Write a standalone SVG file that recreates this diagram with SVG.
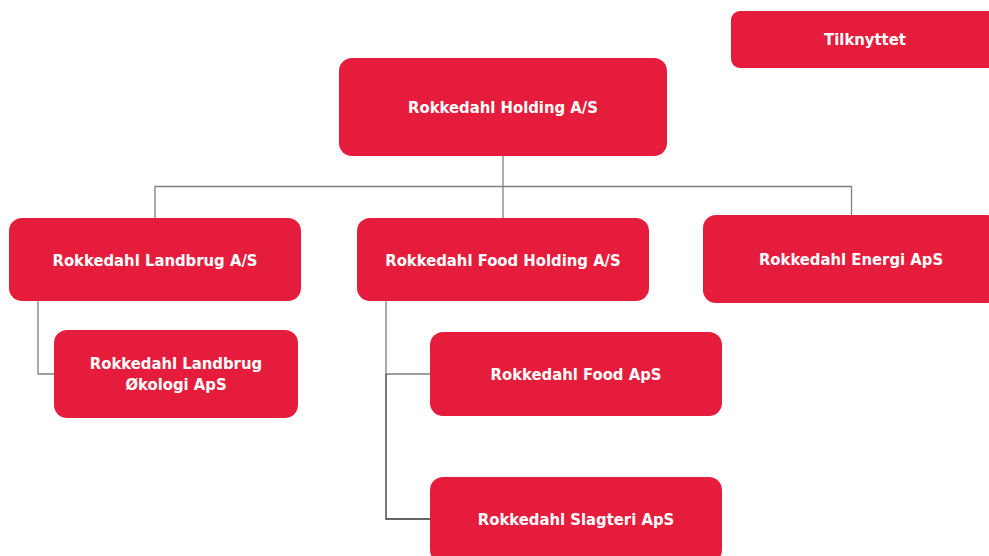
<svg xmlns="http://www.w3.org/2000/svg" width="989" height="556" viewBox="0 0 989 556">
<style>
.box{fill:#E61C3C}
.lbl{font-family:"DejaVu Sans Condensed","DejaVu Sans",sans-serif;font-weight:bold;font-size:16.5px;fill:#ffffff;text-anchor:middle}
.ln{fill:none;stroke:#808080;stroke-width:1.3}
.dk{fill:none;stroke:#333333;stroke-width:1.3}
</style>
<rect width="989" height="556" fill="#ffffff"/>
<g id="connectors">
<polyline class="ln" points="503,156 503,218"/>
<polyline class="ln" points="155,218 155,186.5 851.5,186.5 851.5,215"/>
<polyline class="ln" points="38,301 38,374 54,374"/>
<polyline class="ln" points="386,301 386,374 430,374"/>
<polyline class="dk" points="386,374 386,519 430,519"/>
</g>
<g id="tilknyttet"><rect class="box" x="731" y="11" width="268" height="57" rx="9"/><text class="lbl" x="865" y="45">Tilknyttet</text></g>
<g id="holding"><rect class="box" x="339" y="58" width="328" height="98" rx="13"/><text class="lbl" x="503" y="113">Rokkedahl Holding A/S</text></g>
<g id="landbrug"><rect class="box" x="9" y="218" width="292" height="83" rx="13"/><text class="lbl" x="155" y="266">Rokkedahl Landbrug A/S</text></g>
<g id="foodholding"><rect class="box" x="357" y="218" width="292" height="83" rx="13"/><text class="lbl" x="503" y="266">Rokkedahl Food Holding A/S</text></g>
<g id="energi"><rect class="box" x="703" y="215" width="296" height="88" rx="13"/><text class="lbl" x="851" y="265">Rokkedahl Energi ApS</text></g>
<g id="okologi"><rect class="box" x="54" y="330" width="244" height="88" rx="13"/><text class="lbl" x="176" y="369">Rokkedahl Landbrug</text><text class="lbl" x="176" y="390">Økologi ApS</text></g>
<g id="food"><rect class="box" x="430" y="332" width="292" height="84" rx="13"/><text class="lbl" x="576" y="380">Rokkedahl Food ApS</text></g>
<g id="slagteri"><rect class="box" x="430" y="477" width="292" height="86" rx="13"/><text class="lbl" x="576" y="525">Rokkedahl Slagteri ApS</text></g>
</svg>
